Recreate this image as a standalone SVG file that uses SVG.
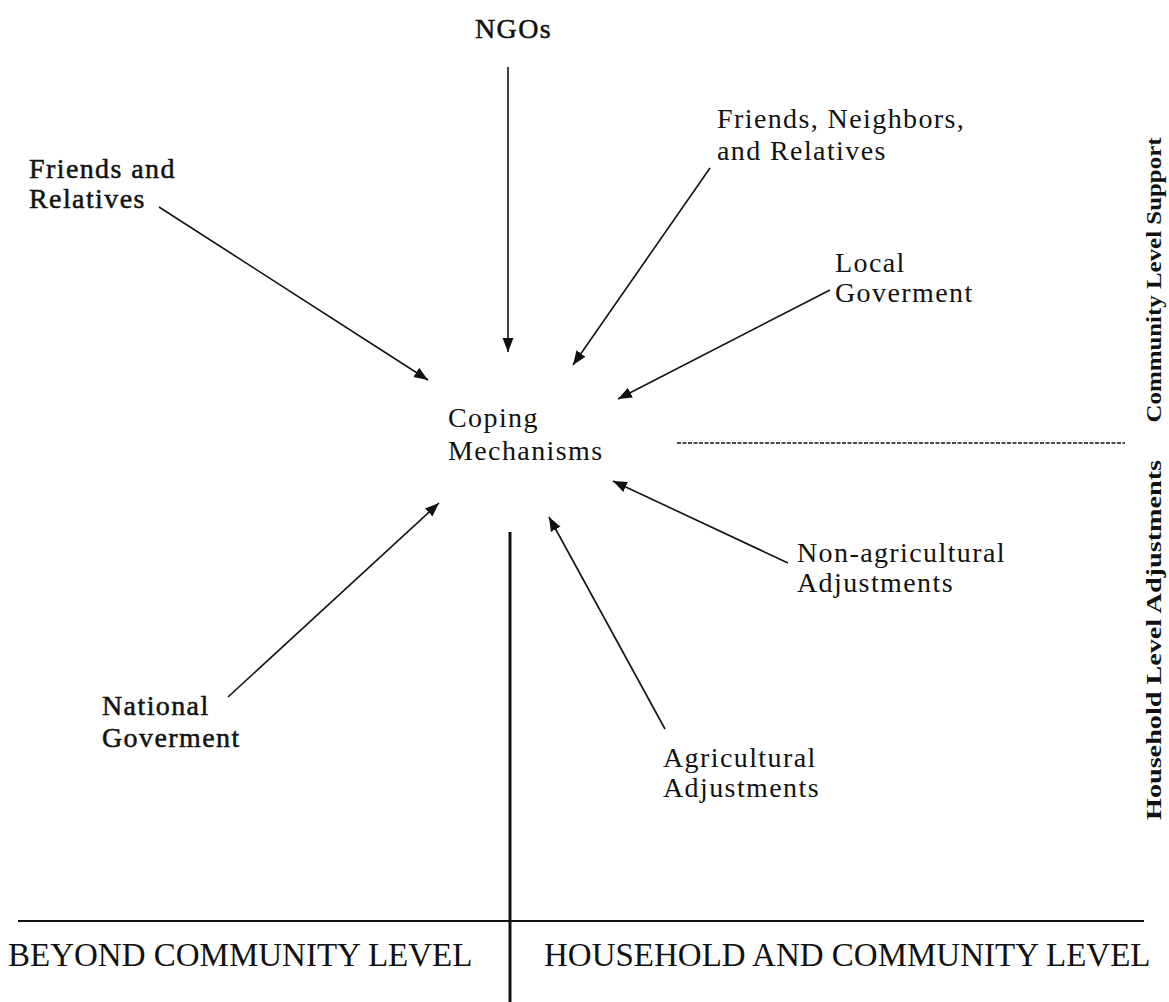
<svg xmlns="http://www.w3.org/2000/svg" width="1169" height="1002" viewBox="0 0 1169 1002">
<style>
  .lbl { font-family: "Liberation Serif", "Times New Roman", serif; font-size: 28px; letter-spacing: 1.4px; fill: #111; }
  .heavy { stroke: #111; stroke-width: 0.5px; }
  .side { font-family: "Liberation Serif", "Times New Roman", serif; font-size: 21px; font-weight: bold; fill: #111; }
  .foot { font-family: "Liberation Serif", "Times New Roman", serif; font-size: 33px; fill: #111; }
  .arrow { stroke: #111; stroke-width: 1.6; fill: none; marker-end: url(#ah); }
  .rule { stroke: #111; fill: none; }
</style>
<defs>
  <marker id="ah" markerUnits="userSpaceOnUse" markerWidth="15" markerHeight="12" refX="14" refY="6" orient="auto">
    <path d="M0,0.5 L14,6 L0,11.5 Z" fill="#111"/>
  </marker>
</defs>
<rect width="1169" height="1002" fill="#fff"/>

<g id="connectors">
  <line class="arrow" x1="508" y1="67" x2="508" y2="352"/>
  <line class="arrow" x1="159" y1="207" x2="428" y2="380"/>
  <line class="arrow" x1="710" y1="168" x2="573" y2="365"/>
  <line class="arrow" x1="830" y1="290" x2="618" y2="399"/>
  <line class="arrow" x1="788" y1="563" x2="613" y2="481"/>
  <line class="arrow" x1="665" y1="729" x2="549" y2="517"/>
  <line class="arrow" x1="228" y1="697" x2="439" y2="503"/>
</g>

<g id="dividers">
  <line class="rule" x1="677" y1="443" x2="1125" y2="443" stroke-width="1.3" stroke-dasharray="4 1.5"/>
  <line class="rule" x1="510" y1="532" x2="510" y2="1002" stroke-width="3"/>
  <line class="rule" x1="18" y1="921" x2="1144" y2="921" stroke-width="1.8"/>
</g>

<g id="node-ngos"><text class="lbl heavy" x="475" y="38">NGOs</text></g>
<g id="node-friends-relatives"><text class="lbl heavy" x="29" y="178">Friends and</text><text class="lbl heavy" x="29" y="208">Relatives</text></g>
<g id="node-friends-neighbors"><text class="lbl" x="717" y="128">Friends, Neighbors,</text><text class="lbl" x="717" y="160">and Relatives</text></g>
<g id="node-local-gov"><text class="lbl" x="835" y="272">Local</text><text class="lbl" x="835" y="302">Goverment</text></g>
<g id="node-coping"><text class="lbl" x="448" y="427">Coping</text><text class="lbl" x="448" y="460">Mechanisms</text></g>
<g id="node-nonagri"><text class="lbl" x="797" y="562">Non-agricultural</text><text class="lbl" x="797" y="592">Adjustments</text></g>
<g id="node-agri"><text class="lbl" x="663" y="767">Agricultural</text><text class="lbl" x="663" y="797">Adjustments</text></g>
<g id="node-national-gov"><text class="lbl heavy" x="102" y="715">National</text><text class="lbl heavy" x="102" y="747">Goverment</text></g>

<g id="side-labels">
  <text class="side" transform="translate(1161,280) rotate(-90)" text-anchor="middle" textLength="285" lengthAdjust="spacingAndGlyphs">Community Level Support</text>
  <text class="side" transform="translate(1161,640) rotate(-90)" text-anchor="middle" textLength="360" lengthAdjust="spacingAndGlyphs">Household Level Adjustments</text>
</g>

<g id="footer">
  <text class="foot" x="8" y="966">BEYOND COMMUNITY  LEVEL</text>
  <text class="foot" x="544" y="966">HOUSEHOLD AND COMMUNITY LEVEL</text>
</g>
</svg>
